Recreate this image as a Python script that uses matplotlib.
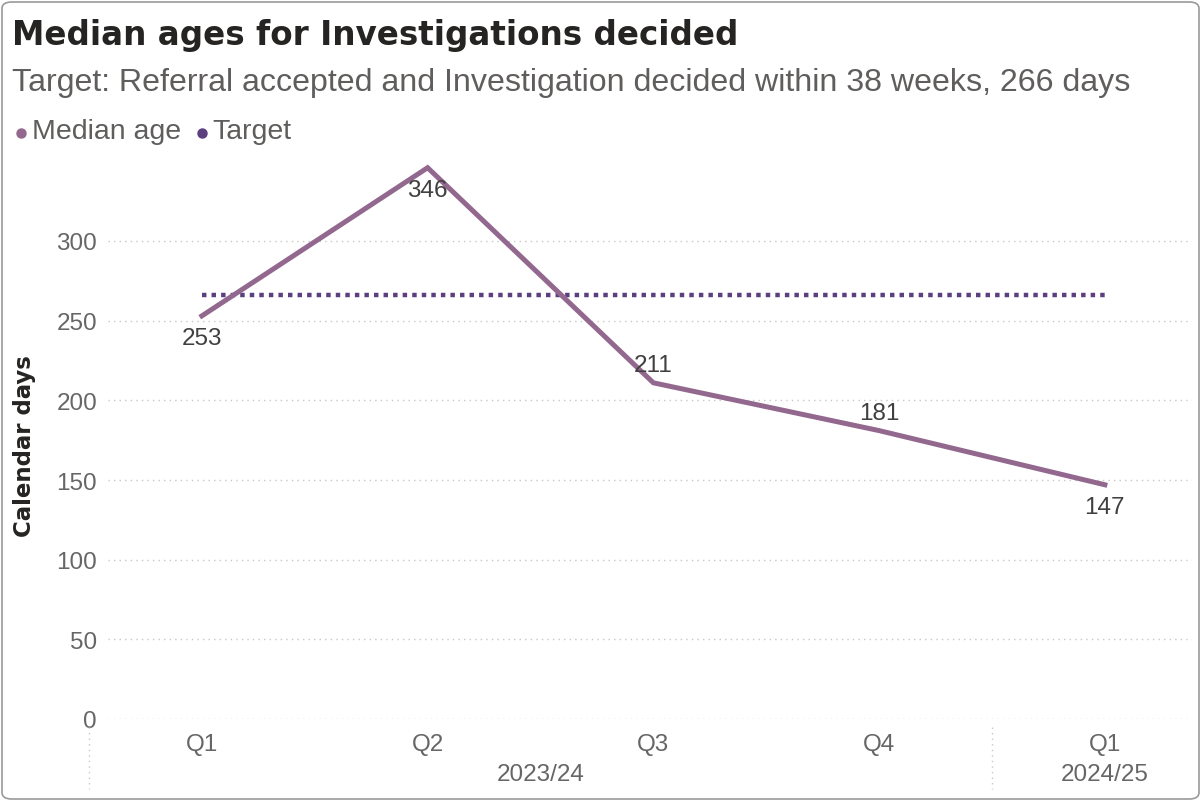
import matplotlib
matplotlib.use("Agg")
import matplotlib.pyplot as plt
from matplotlib.patches import FancyBboxPatch
from matplotlib.lines import Line2D

quarters = ["Q1", "Q2", "Q3", "Q4", "Q1"]
years = ["2023/24", "2024/25"]
year_groups = [[0, 1, 2, 3], [4]]
median_age = [253, 346, 211, 181, 147]
target = [266, 266, 266, 266, 266]
label_pos = ["below", "below", "above", "above", "below"]
yticks = [0, 50, 100, 150, 200, 250, 300]

W, H = 1202, 803
fig = plt.figure(figsize=(W / 100, H / 100), dpi=100)
fig.patch.set_facecolor("white")

def fx(px):
    return px / W

def fy(py):
    return 1 - py / H

# border
border = FancyBboxPatch((fx(2), fy(800)), fx(1197), (797) / H,
                        boxstyle="round,pad=0,rounding_size=0.008",
                        transform=fig.transFigure, fill=False,
                        edgecolor="#9a9a9a", linewidth=1.2)
fig.patches.append(border)

# axes
ax_left, ax_right = 89, 1192
ax_bottom, ax_top = 720, 146.4
ax = fig.add_axes([fx(ax_left), fy(ax_bottom), fx(ax_right - ax_left), (ax_bottom - ax_top) / H])
ax.set_xlim(-0.5, 4.386)
ax.set_ylim(0, 360)
for s in ax.spines.values():
    s.set_visible(False)
ax.set_facecolor("none")

tick_color = "#666666"
fs = 17.5
grid_x0 = (108 - ax_left) / (ax_right - ax_left)
for yv in yticks:
    ax.axhline(yv, xmin=grid_x0, xmax=1, color="#c8c8c8", linewidth=1.0,
               linestyle=(0, (1, 3)), zorder=0)

x = list(range(len(quarters)))
line_color = "#93688F"
target_color = "#5B3F7E"
ax.plot(x, target, color=target_color, linewidth=3.2, linestyle=(0, (1, 1.15)),
        solid_capstyle="butt", dash_capstyle="butt", zorder=2)
ax.plot(x, median_age, color=line_color, linewidth=3.6, zorder=3,
        solid_joinstyle="miter")

for xi, v, pos in zip(x, median_age, label_pos):
    off = -16 if pos == "below" else 12.5
    ax.annotate(str(v), (xi, v), xytext=(0, off), textcoords="offset points",
                ha="center", va="center", fontsize=fs, color="#404040",
                family="Liberation Sans", zorder=4)

ax.set_yticks(yticks)
ax.set_yticklabels([str(t) for t in yticks], family="Liberation Sans",
                   fontsize=fs, color=tick_color)
ax.tick_params(axis="y", length=0, pad=-5.8)
ax.set_xticks(x)
ax.set_xticklabels(quarters, family="Liberation Sans", fontsize=fs, color=tick_color)
ax.tick_params(axis="x", length=0, pad=10)

# year labels and separators
for yr, grp in zip(years, year_groups):
    if len(grp) > 1:
        cx = (grp[0] - 0.5 + grp[-1] + 0.5) / 2
    else:
        cx = grp[0]
    ax.text(cx, -34.5, yr, ha="center", va="center", family="Liberation Sans",
            fontsize=fs, color=tick_color, clip_on=False)
for bx in [-0.5, 3.5]:
    ax.plot([bx, bx], [-5, -44], color="#c8c8c8", linewidth=1.0,
            linestyle=(0, (1, 3)), clip_on=False)

# y label
fig.text(fx(25), fy(446), "Calendar days", rotation=90, ha="center", va="center",
         fontsize=16.5, fontweight="bold", color="#252423", family="DejaVu Sans")

# title / subtitle
fig.text(fx(12), fy(36), "Median ages for Investigations decided", ha="left", va="center",
         fontsize=23.5, fontweight="bold", color="#252423", family="DejaVu Sans")
fig.text(fx(12), fy(83), "Target: Referral accepted and Investigation decided within 38 weeks, 266 days",
         ha="left", va="center", fontsize=23.1, color="#605E5C", family="Liberation Sans")

# legend
fig.lines.append(Line2D([fx(21)], [fy(134)], marker="o", markersize=6.5,
                        color=line_color, transform=fig.transFigure, linestyle="none"))
fig.text(fx(32), fy(132), "Median age", ha="left", va="center", fontsize=20.5,
         color="#605E5C", family="Liberation Sans")
fig.lines.append(Line2D([fx(202)], [fy(134)], marker="o", markersize=6.5,
                        color=target_color, transform=fig.transFigure, linestyle="none"))
fig.text(fx(212), fy(132), "Target", ha="left", va="center", fontsize=20.5,
         color="#605E5C", family="Liberation Sans")

fig.savefig("out.png", dpi=100)
